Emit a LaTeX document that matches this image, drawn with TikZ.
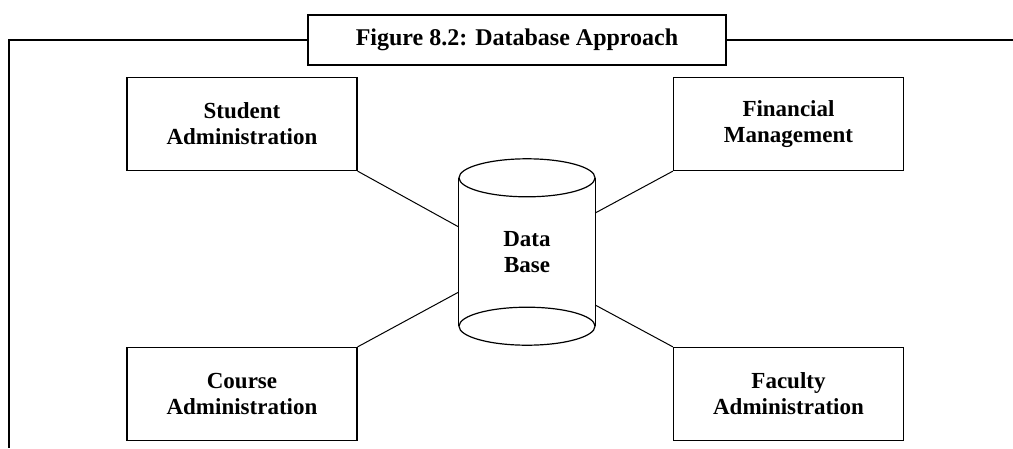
\documentclass[tikz,border=0pt]{standalone}
\usepackage{fontspec}
\setmainfont{Liberation Serif}
\usetikzlibrary{calc}

\begin{document}
\begin{tikzpicture}[
    x=1pt, y=-1pt,
    every node/.style={align=center},
    module/.style={rectangle, minimum width=230pt, minimum height=93pt, draw, line width=1.3pt, font=\bfseries\fontsize{23}{26}\selectfont},
    store/.style={rectangle, minimum width=136pt, minimum height=186pt, inner sep=0pt, font=\bfseries\fontsize{23}{26}\selectfont},
    caption/.style={rectangle, minimum width=418pt, minimum height=50pt, draw, line width=2.5pt, font=\bfseries\fontsize{24}{26}\selectfont},
    link/.style={line width=1pt},
    outline/.style={line width=2pt}
]
\useasboundingbox (0,0) rectangle (1013,448);

% Title and frame
\node[caption] (title) at (517,40) {Figure 8.2: Database Approach};
\draw[outline] (title.west) -- (9,40) -- (9,448);
\draw[outline] (title.east) -- (1013,40);

% Central data store
\node[store] (db) at (527,252) {Data\\Base};
\draw[line width=1.2pt] ($(db.north west)+(0,19)$) -- ($(db.south west)+(0,-19)$);
\draw[line width=1.2pt] ($(db.north east)+(0,19)$) -- ($(db.south east)+(0,-19)$);
\draw[line width=1.2pt] ($(db.north)+(0,19)$) ellipse [x radius=68pt, y radius=19pt];
\draw[line width=1.2pt] ($(db.south)+(0,-19)$) ellipse [x radius=68pt, y radius=19pt];

% Application modules
\node[module] (student) at (242,124) {Student\\Administration};
\node[module] (financial) at (788.5,124) {Financial\\Management};
\node[module] (course) at (242,394) {Course\\Administration};
\node[module] (faculty) at (788.5,394) {Faculty\\Administration};

% Connections
\draw[link] (student.south east) -- ($(db.west)+(0,-25)$);
\draw[link] (financial.south west) -- ($(db.east)+(0,-39)$);
\draw[link] (course.north east) -- ($(db.west)+(0,40)$);
\draw[link] (faculty.north west) -- ($(db.east)+(0,53)$);

\end{tikzpicture}
\end{document}
